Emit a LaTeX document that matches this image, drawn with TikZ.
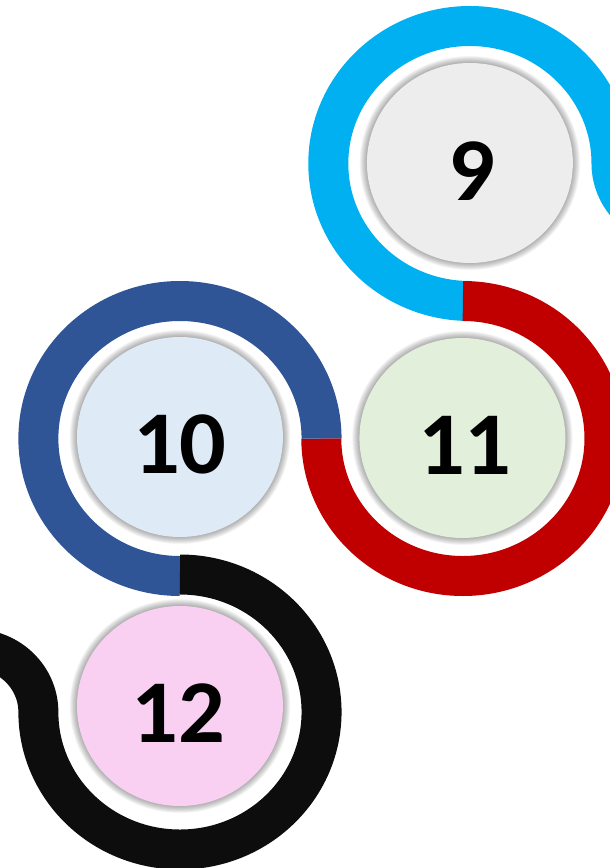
\documentclass[tikz,border=0pt]{standalone}
\usepackage{fontspec}
\setmainfont{Carlito}
\usepackage{graphicx}
\definecolor{ringcyan}{HTML}{00B0F0}
\definecolor{ringred}{HTML}{C00000}
\definecolor{ringblue}{HTML}{2F5597}
\definecolor{ringblack}{HTML}{0D0D0D}
\definecolor{fillgray}{HTML}{EDEDED}
\definecolor{fillblue}{HTML}{DEEBF7}
\definecolor{fillgreen}{HTML}{E2EFDA}
\definecolor{fillpink}{HTML}{F9D0F2}
\begin{document}
\begin{tikzpicture}[x=0.0206cm, y=-0.02cm,
  band/.style={line width=0.8cm, line cap=butt},
  shade/.style={fill=black, opacity=0.04},
  num/.style={font=\fontsize{51}{60}\selectfont\bfseries, inner sep=0pt, text=black}]
\useasboundingbox (0,0) rectangle (592.233,868);
\clip (0,0) rectangle (592.233,868);
% ring centres
\coordinate (c9) at (456.311,163.5);
\coordinate (c11) at (449.515,438.5);
\coordinate (c10) at (174.757,438.5);
\coordinate (c12) at (174.757,712);
% disc centres
\coordinate (d9) at (456.31,163);
\coordinate (d10) at (174.76,437);
\coordinate (d11) at (449.03,438);
\coordinate (d12) at (174.76,706);
% rings
\draw[band, ringcyan] (c9) ++(90:137.5) arc[start angle=90, end angle=360, radius=137.5]
   arc[start angle=180, end angle=110, radius=63];
\draw[band, ringred] (c11) ++(270:137.5) arc[start angle=270, end angle=540, radius=137.5];
\draw[band, ringblue] (c10) ++(0:137.5) arc[start angle=0, end angle=-270, radius=137.5];
\draw[band, ringblack] (c12) ++(-90:137.5) arc[start angle=-90, end angle=180, radius=137.5]
   arc[start angle=0, end angle=-130, radius=63];
% shadows
\foreach \c in {d9,d10,d11,d12}{
  \foreach \i in {1,...,10}{
    \fill[shade, shift={(2.5,5)}] (\c) circle[radius={99+\i*0.8}];
  }
}
% discs
\fill[fillgray] (d9) circle[radius=100];
\fill[fillblue] (d10) circle[radius=100];
\fill[fillgreen] (d11) circle[radius=100];
\fill[fillpink] (d12) circle[radius=100];
% labels
\node[num] (t9) at (458.25,171) {\scalebox{1.03}[1]{9}};
\node[num] (t10) at (174.76,444.5) {\scalebox{1.03}[1]{10}};
\node[num] (t11) at (451.46,445) {\scalebox{1.03}[1]{11}};
\node[num] (t12) at (173.3,713) {\scalebox{1.03}[1]{12}};
\end{tikzpicture}
\end{document}
